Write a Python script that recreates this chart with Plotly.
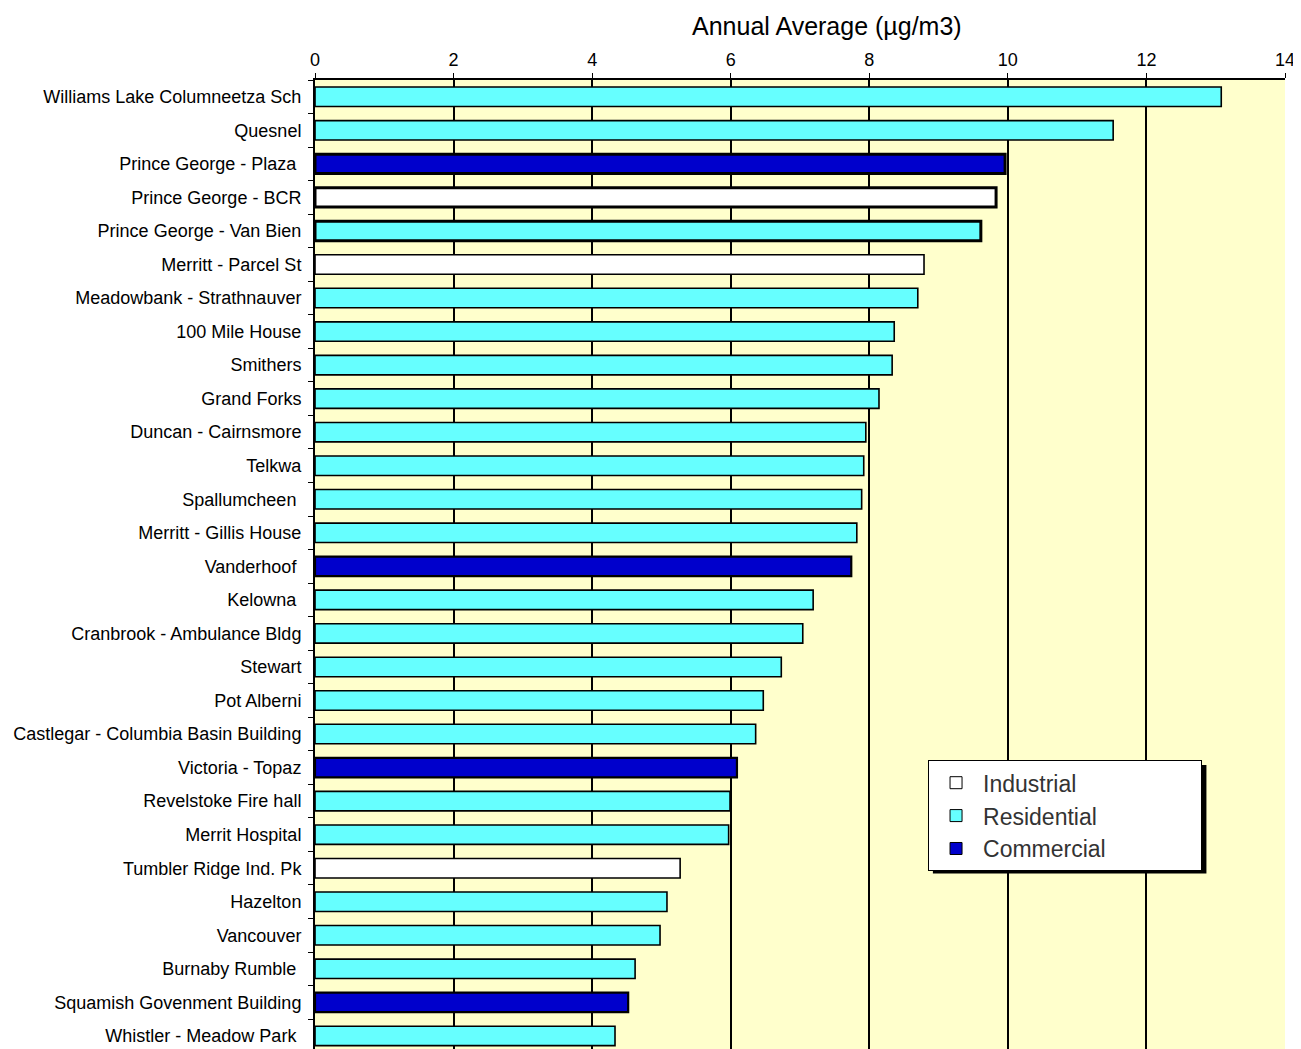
import plotly.graph_objects as go

# stations, ordered top to bottom
stations = [
    "Williams Lake Columneetza Sch", "Quesnel", "Prince George - Plaza ",
    "Prince George - BCR", "Prince George - Van Bien", "Merritt - Parcel St",
    "Meadowbank - Strathnauver", "100 Mile House", "Smithers", "Grand Forks",
    "Duncan - Cairnsmore", "Telkwa", "Spallumcheen ", "Merritt - Gillis House",
    "Vanderhoof ", "Kelowna ", "Cranbrook - Ambulance Bldg", "Stewart",
    "Pot Alberni", "Castlegar - Columbia Basin Building", "Victoria - Topaz",
    "Revelstoke Fire hall", "Merrit Hospital", "Tumbler Ridge Ind. Pk",
    "Hazelton", "Vancouver", "Burnaby Rumble ", "Squamish Govenment Building",
    "Whistler - Meadow Park ",
]
annual_avg = [
    13.08, 11.52, 9.96, 9.83, 9.61, 8.79, 8.70, 8.36, 8.33, 8.14,
    7.95, 7.92, 7.89, 7.82, 7.74, 7.19, 7.04, 6.73, 6.47, 6.36,
    6.09, 5.99, 5.97, 5.27, 5.08, 4.98, 4.62, 4.52, 4.33,
]
site_type = [
    "Residential", "Residential", "Commercial", "Industrial", "Residential",
    "Industrial", "Residential", "Residential", "Residential", "Residential",
    "Residential", "Residential", "Residential", "Residential", "Commercial",
    "Residential", "Residential", "Residential", "Residential", "Residential",
    "Commercial", "Residential", "Residential", "Industrial", "Residential",
    "Residential", "Residential", "Commercial", "Residential",
]
# stations drawn with a heavier outline
heavy = {"Prince George - Plaza ", "Prince George - BCR", "Prince George - Van Bien"}
medium = {"Vanderhoof ", "Victoria - Topaz", "Squamish Govenment Building"}

types = ["Industrial", "Residential", "Commercial"]
colors = {"Industrial": "#FFFFFF", "Residential": "#66FFFF", "Commercial": "#0000CC"}

fig = go.Figure()
for t in types:
    ys = [s for s, k in zip(stations, site_type) if k == t]
    xs = [v for v, k in zip(annual_avg, site_type) if k == t]
    lw = [3 if s in heavy else (2.2 if s in medium else 1.6) for s in ys]
    fig.add_trace(go.Bar(
        x=xs, y=ys, orientation="h", name=t, showlegend=False,
        width=0.58,
        marker=dict(color=colors[t], line=dict(color="black", width=lw)),
    ))

# legend-only entries (thin outlined squares)
for t in types:
    fig.add_trace(go.Bar(
        x=[None], y=[stations[0]], orientation="h",
        name=t + "\u00a0" * 14,
        marker=dict(color=colors[t], line=dict(color="black", width=1)),
    ))

# legend drop shadow
fig.add_shape(type="rect", xref="paper", yref="paper",
              x0=0.637, x1=0.919, y0=0.181, y1=0.293,
              fillcolor="#000000", line_width=0, layer="above")

fig.add_annotation(text="Annual Average (µg/m3)", xref="paper", yref="paper",
                   x=0.528, y=1.0, yanchor="middle", yshift=54, showarrow=False,
                   font=dict(size=25, color="black"))

fig.update_layout(
    width=1293, height=1041,
    margin=dict(l=307, r=16, t=72, b=0),
    paper_bgcolor="white", plot_bgcolor="#FFFFCC",
    barmode="overlay",
    font=dict(family="Liberation Sans, Arial, sans-serif", color="black"),
    showlegend=True,
    legend=dict(x=0.632, y=0.298, xanchor="left", yanchor="top",
                bgcolor="white", bordercolor="black", borderwidth=1,
                font=dict(size=23, color="#333333"), traceorder="normal",
                itemwidth=44, tracegroupgap=0),
)
fig.update_xaxes(side="top", range=[0, 14], dtick=2, tick0=0,
                 showgrid=True, gridcolor="black", gridwidth=2,
                 showline=True, linecolor="black", linewidth=2,
                 ticks="outside", ticklen=5, tickcolor="black",
                 tickfont=dict(size=18), zeroline=False, fixedrange=True)
fig.update_yaxes(categoryorder="array", categoryarray=stations,
                 range=[28.39, -0.5], showline=True, linecolor="black",
                 linewidth=2, ticks="outside", ticklen=5, tickson="boundaries",
                 tickcolor="black", tickfont=dict(size=18), ticklabelstandoff=8,
                 showgrid=False, fixedrange=True)

fig.write_html("out.html")
